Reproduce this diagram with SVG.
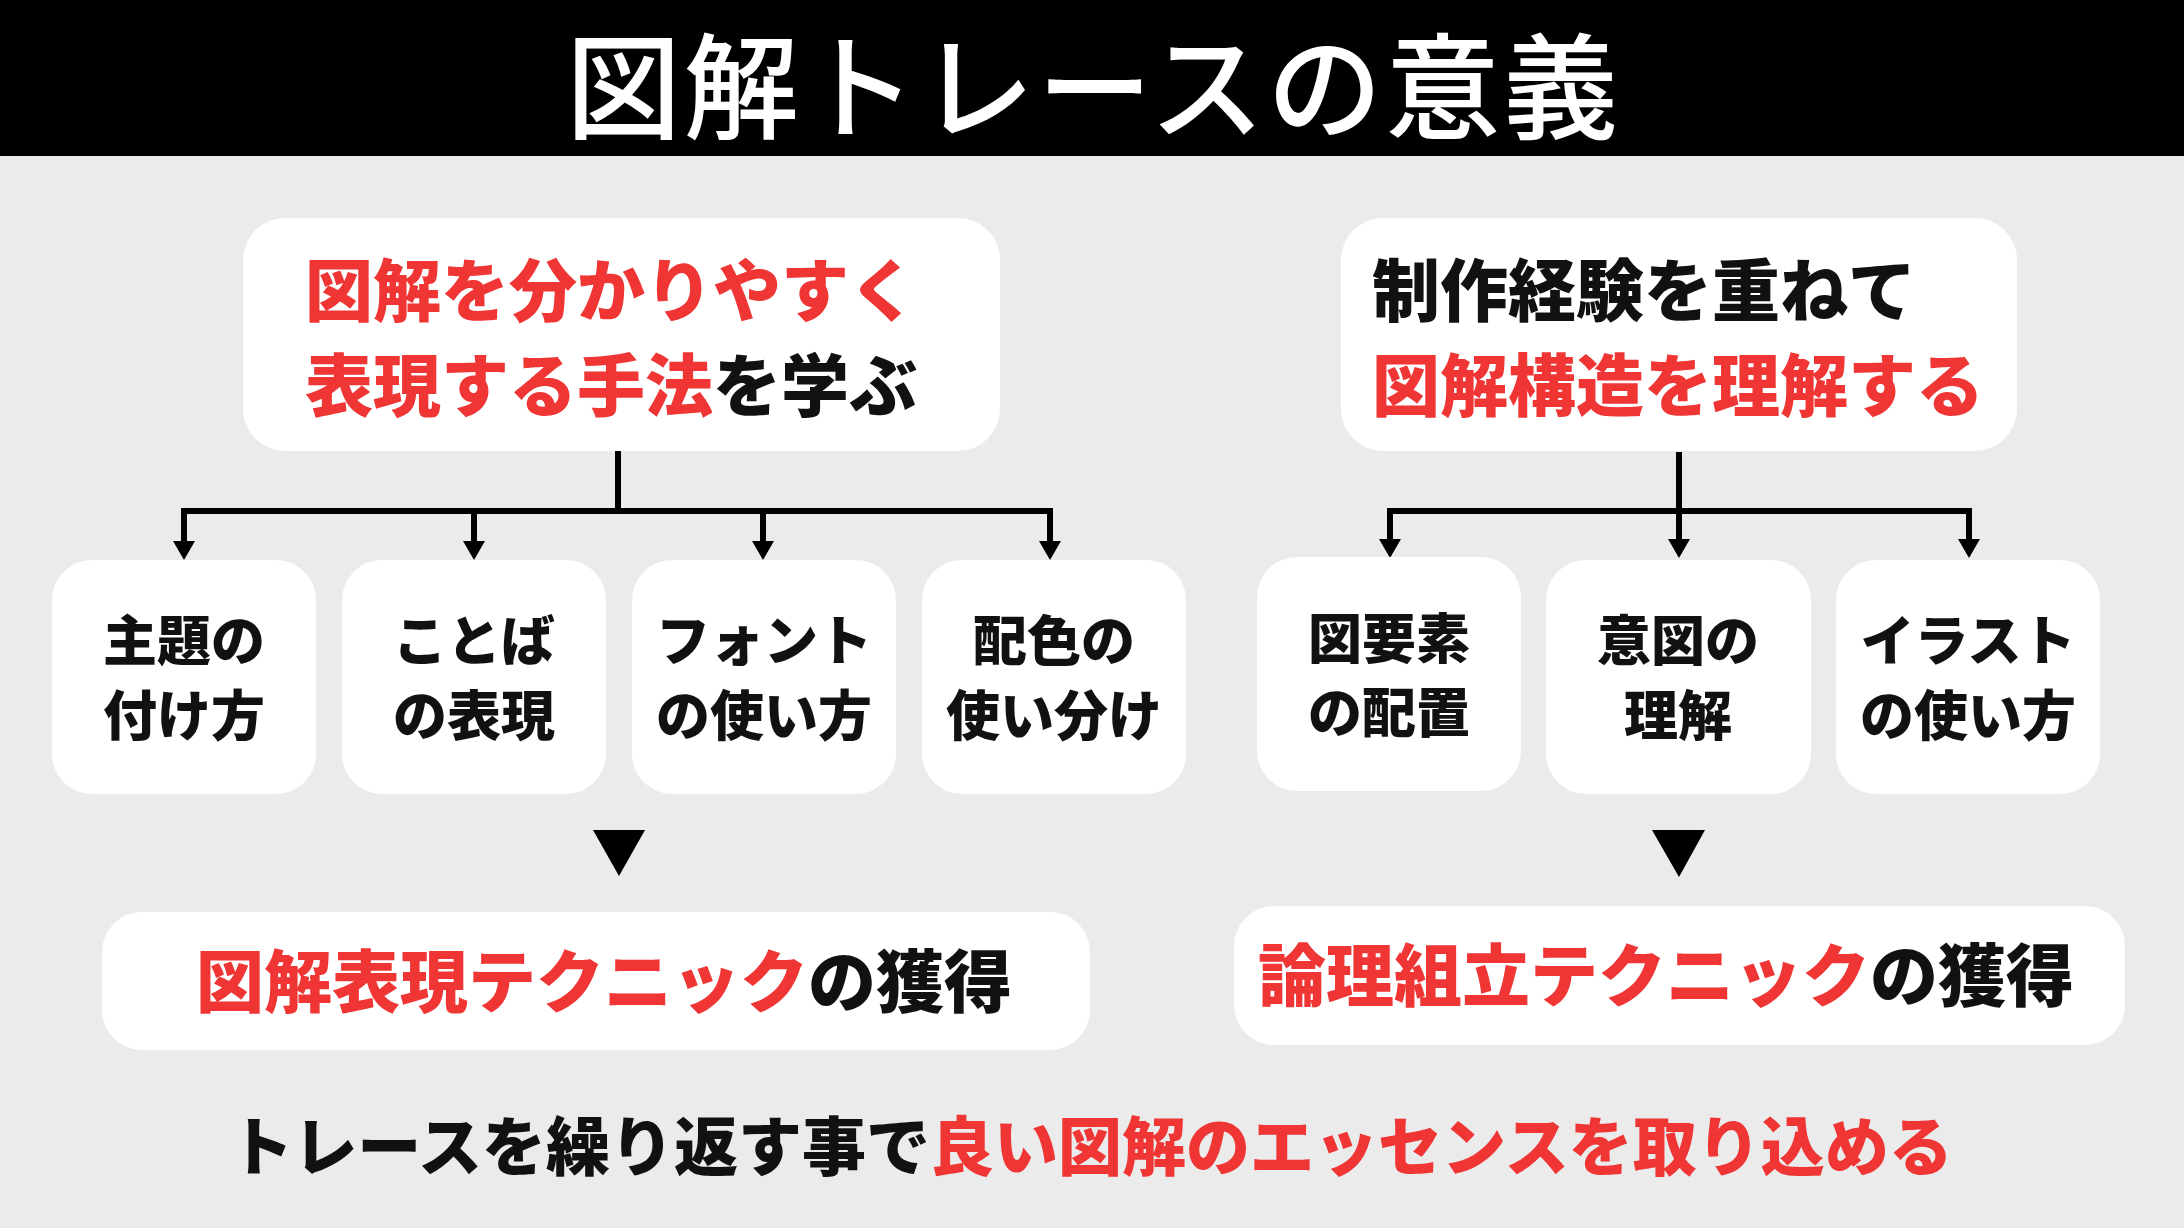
<svg xmlns="http://www.w3.org/2000/svg" width="2184" height="1228" viewBox="0 0 2184 1228">
<defs>
<style>
.box{fill:#ffffff}
.t{font-family:"Noto Sans CJK JP","Noto Sans CJK SC",sans-serif;font-weight:900;fill:#111111}
.r{fill:#f03535}
.k{fill:#111111}
.c{stroke:#000000;stroke-width:6;fill:none}
.title{font-family:"Noto Sans CJK JP","Noto Sans CJK SC",sans-serif;font-weight:500;fill:#ffffff}
</style>
<marker id="ah" markerUnits="userSpaceOnUse" markerWidth="19" markerHeight="22" viewBox="0 0 19 22" refX="2" refY="11" orient="auto">
<path d="M0,0 L19,11 L0,22 Z" fill="#000000"/>
</marker>
</defs>
<rect x="0" y="0" width="2184" height="1228" fill="#ebebeb"/>
<g id="title">
<rect x="0" y="0" width="2184" height="156" fill="#000000"/>
<text class="title" x="1092" y="130" font-size="115" text-anchor="middle" textLength="1052" lengthAdjust="spacing">図解トレースの意義</text>
</g>
<g id="connectors">
<path class="c" d="M618,451 V511"/>
<path class="c" d="M184,511 H1050"/>
<path class="c" d="M184,508 V543" marker-end="url(#ah)"/>
<path class="c" d="M474,511 V543" marker-end="url(#ah)"/>
<path class="c" d="M763,511 V543" marker-end="url(#ah)"/>
<path class="c" d="M1050,508 V543" marker-end="url(#ah)"/>
<path class="c" d="M1679,452 V511"/>
<path class="c" d="M1390,511 H1969"/>
<path class="c" d="M1390,508 V541" marker-end="url(#ah)"/>
<path class="c" d="M1679,511 V541" marker-end="url(#ah)"/>
<path class="c" d="M1969,508 V541" marker-end="url(#ah)"/>
<polygon points="593,830 645,830 619,876" fill="#000000"/>
<polygon points="1652,830 1705,830 1679,877" fill="#000000"/>
</g>
<g id="top-left">
<rect class="box" x="243" y="218" width="757" height="233" rx="42"/>
<text class="t" x="305" y="316" font-size="68"><tspan class="r">図解を分かりやすく</tspan></text>
<text class="t" x="305" y="411" font-size="68"><tspan class="r">表現する手法</tspan><tspan class="k">を学ぶ</tspan></text>
</g>
<g id="top-right">
<rect class="box" x="1341" y="218" width="676" height="233" rx="42"/>
<text class="t" x="1372" y="316" font-size="68"><tspan class="k">制作経験を重ねて</tspan></text>
<text class="t" x="1372" y="411" font-size="68"><tspan class="r">図解構造を理解する</tspan></text>
</g>
<g id="n1">
<rect class="box" x="52" y="560" width="264" height="234" rx="40"/>
<text class="t" x="184" y="661" font-size="54" text-anchor="middle">主題の</text>
<text class="t" x="184" y="736" font-size="54" text-anchor="middle">付け方</text>
</g>
<g id="n2">
<rect class="box" x="342" y="560" width="264" height="234" rx="40"/>
<text class="t" x="474" y="661" font-size="54" text-anchor="middle">ことば</text>
<text class="t" x="474" y="736" font-size="54" text-anchor="middle">の表現</text>
</g>
<g id="n3">
<rect class="box" x="632" y="560" width="264" height="234" rx="40"/>
<text class="t" x="764" y="661" font-size="54" text-anchor="middle">フォント</text>
<text class="t" x="764" y="736" font-size="54" text-anchor="middle">の使い方</text>
</g>
<g id="n4">
<rect class="box" x="922" y="560" width="264" height="234" rx="40"/>
<text class="t" x="1054" y="661" font-size="54" text-anchor="middle">配色の</text>
<text class="t" x="1054" y="736" font-size="54" text-anchor="middle">使い分け</text>
</g>
<g id="n5">
<rect class="box" x="1257" y="557" width="264" height="234" rx="40"/>
<text class="t" x="1389" y="659" font-size="54" text-anchor="middle">図要素</text>
<text class="t" x="1389" y="733" font-size="54" text-anchor="middle">の配置</text>
</g>
<g id="n6">
<rect class="box" x="1546" y="560" width="265" height="234" rx="40"/>
<text class="t" x="1678" y="661" font-size="54" text-anchor="middle">意図の</text>
<text class="t" x="1678" y="736" font-size="54" text-anchor="middle">理解</text>
</g>
<g id="n7">
<rect class="box" x="1836" y="560" width="264" height="234" rx="40"/>
<text class="t" x="1968" y="661" font-size="54" text-anchor="middle">イラスト</text>
<text class="t" x="1968" y="736" font-size="54" text-anchor="middle">の使い方</text>
</g>
<g id="bottom-left">
<rect class="box" x="102" y="912" width="988" height="138" rx="40"/>
<text class="t" x="604" y="1007" font-size="68" text-anchor="middle"><tspan class="r">図解表現テクニック</tspan><tspan class="k">の獲得</tspan></text>
</g>
<g id="bottom-right">
<rect class="box" x="1234" y="906" width="891" height="139" rx="40"/>
<text class="t" x="1666" y="1001" font-size="68" text-anchor="middle"><tspan class="r">論理組立テクニック</tspan><tspan class="k">の獲得</tspan></text>
</g>
<g id="summary">
<text class="t" x="1091" y="1170" font-size="64" text-anchor="middle"><tspan class="k">トレースを繰り返す事で</tspan><tspan class="r">良い図解のエッセンスを取り込める</tspan></text>
</g>
</svg>
